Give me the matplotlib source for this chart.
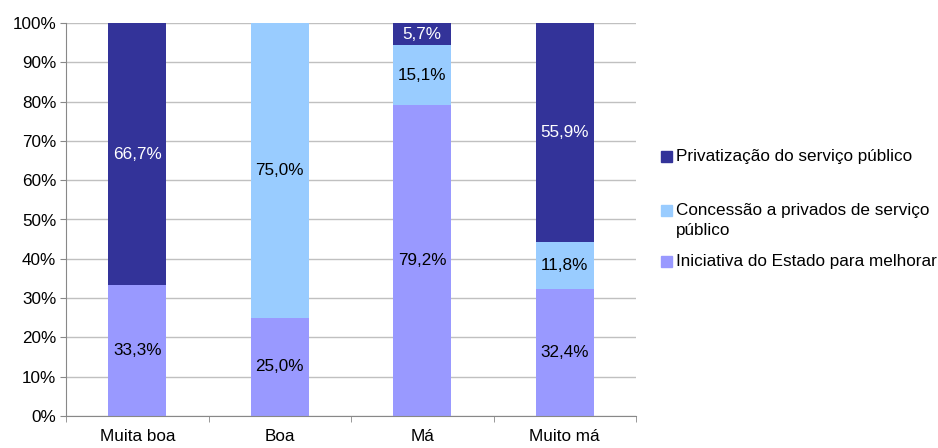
import numpy as np
import matplotlib.pyplot as plt
from matplotlib.patches import Rectangle

plt.rcParams['font.family'] = ['Liberation Sans', 'DejaVu Sans']

# data
categorias = ['Muita boa', 'Boa', 'Má', 'Muito má']
iniciativa = [33.3, 25.0, 79.2, 32.4]
concessao = [0.0, 75.0, 15.1, 11.8]
privatizacao = [66.7, 0.0, 5.7, 55.9]

series = [
    ('Iniciativa do Estado para melhorar', iniciativa, '#9999FF', 'black'),
    ('Concessão a privados de serviço\npúblico', concessao, '#99CCFF', 'black'),
    ('Privatização do serviço público', privatizacao, '#333399', 'white'),
]

W, H = 938, 448
fs = 12.3
fig = plt.figure(figsize=(W / 100, H / 100), dpi=100)
ax = fig.add_axes([66 / W, 1 - 416 / H, 570 / W, 393 / H])

x = np.arange(len(categorias))
bottom = np.zeros(len(categorias))
for nome, vals, cor, cor_txt in series:
    vals = np.array(vals)
    ax.bar(x, vals, bottom=bottom, width=0.41, color=cor, zorder=2)
    for xi, b, v in zip(x, bottom, vals):
        if v > 0:
            ax.text(xi, b + v / 2, f'{v:.1f}%'.replace('.', ','),
                    ha='center', va='center', fontsize=fs, color=cor_txt, zorder=3)
    bottom += vals

ax.set_xlim(-0.5, len(categorias) - 0.5)
ax.set_ylim(0, 100)
ax.set_yticks(np.arange(0, 101, 10))
ax.set_yticklabels([f'{t}%' for t in range(0, 101, 10)], fontsize=fs)
ax.set_xticks(x)
ax.set_xticklabels(categorias, fontsize=fs)
ax.set_xticks(np.arange(-0.5, len(categorias)), minor=True)
ax.tick_params(axis='x', which='major', length=0, pad=9)
ax.tick_params(axis='x', which='minor', length=4, color='#888888')
ax.tick_params(axis='y', length=4, color='#888888', pad=3)
ax.grid(axis='y', color='#C0C0C0', linewidth=1, zorder=0)
for s in ['top', 'right']:
    ax.spines[s].set_visible(False)
for s in ['left', 'bottom']:
    ax.spines[s].set_color('#888888')

# legend drawn by hand: square centred on first text line
leg_y = [261.5, 210.5, 156.5]
for (nome, _, cor, _), y in zip(series, leg_y):
    fig.patches.append(Rectangle((660.5 / W, 1 - (y + 5.5) / H), 11 / W, 11 / H,
                                 transform=fig.transFigure, color=cor))
    for i, linha in enumerate(nome.split('\n')):
        fig.text(676 / W, 1 - (y + 4.5 + 19.5 * i) / H, linha, fontsize=fs,
                 va='baseline', ha='left')

fig.savefig('out.png', dpi=100)
